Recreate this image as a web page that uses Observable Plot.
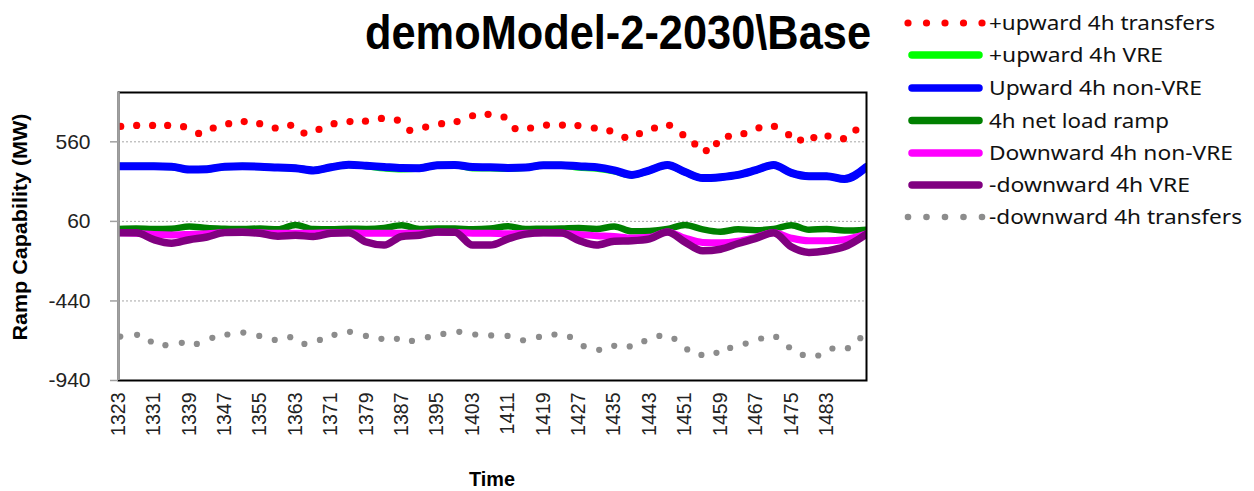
<!DOCTYPE html>
<html>
<head>
<meta charset="utf-8">
<script src="https://cdn.jsdelivr.net/npm/d3@7"></script>
<script src="https://cdn.jsdelivr.net/npm/@observablehq/plot@0.6"></script>
<style>
  html, body { margin: 0; padding: 0; background: #fff; }
  #wrap { position: relative; width: 1254px; height: 491px; overflow: hidden; }
  #chart { position: absolute; left: 0; top: 0; }
  #overlay { position: absolute; left: 0; top: 0; pointer-events: none; }
</style>
</head>
<body>
<div id="wrap">
  <div id="chart"></div>
  <svg id="overlay" width="1254" height="491"></svg>
</div>
<script>
// ---- Data ----
const time = [1323,1327,1331,1335,1339,1343,1347,1351,1355,1359,1363,1367,1371,1375,1379,1383,1387,1391,1395,1399,1403,1407,1411,1415,1419,1423,1427,1431,1435,1439,1443,1447,1451,1455,1459,1463,1467,1471,1475,1479,1483,1487,1492];

const upwardVRE = [406,406,406,404,386,388,404,406,404,398,394,380,400,416,408,396,390,394,413,415,396,395,392,398,413,413,400,394,376,352,381,414,370,332,338,352,382,414,365,344,344,326,402];
const upwardNonVRE = [406,406,406,404,386,388,404,406,404,398,394,380,400,416,410,402,395,394,413,415,402,400,396,398,413,413,406,400,381,352,381,414,370,332,338,352,382,414,365,344,344,326,402];
const netLoadRamp = [12,15,12,14,28,18,14,12,15,10,38,12,10,14,12,18,35,12,15,15,10,15,30,12,14,15,18,12,28,-2,0,12,38,10,-5,10,5,12,36,8,12,2,8];
const downwardNonVRE = [-12,-15,-22,-25,-22,-18,-10,-8,-12,-15,-15,-14,-12,-12,-15,-15,-15,-15,-8,-10,-14,-15,-18,-15,-12,-14,-22,-30,-35,-45,-40,-6,-45,-72,-75,-65,-40,-12,-45,-62,-62,-55,-18];
const downwardVRE = [-12,-12,-55,-77,-55,-38,-10,-8,-15,-33,-27,-35,-15,-12,-70,-89,-35,-27,-6,-8,-89,-89,-50,-20,-12,-12,-60,-89,-65,-62,-50,-6,-70,-125,-115,-79,-47,-12,-100,-135,-125,-100,-20];

const upTransfersTime = [1323.5,1327.1,1330.7,1334.1,1337.7,1341.1,1344.4,1347.9,1351.4,1354.9,1358.4,1361.9,1364.9,1368.3,1371.7,1375.3,1378.8,1382.4,1386.0,1388.8,1392.4,1396.0,1399.5,1403.0,1406.5,1410.1,1412.6,1416.1,1419.7,1423.3,1426.8,1430.5,1434.0,1437.4,1440.7,1444.1,1447.5,1450.5,1453.2,1455.8,1458.1,1460.8,1464.3,1467.7,1471.2,1474.4,1477.1,1480.1,1483.3,1486.8,1489.6];
const upTransfers = [657,663,663,663,655,613,647,674,687,674,647,664,615,638,674,687,690,707,697,632,653,674,687,724,733,716,643,647,665,665,662,647,629,588,611,647,664,605,547,505,549,595,611,648,657,605,571,587,596,580,634];

const downTransfersTime = [1323.4,1327.2,1330.3,1333.6,1337.3,1340.7,1344.2,1347.6,1351.2,1354.8,1358.3,1361.8,1365.0,1368.5,1371.8,1375.3,1378.9,1382.4,1385.9,1389.3,1392.9,1396.4,1400.0,1403.6,1407.2,1410.9,1414.4,1418.0,1421.5,1425.0,1428.1,1431.6,1435.0,1438.5,1441.8,1445.2,1448.6,1451.5,1454.7,1458.1,1461.2,1464.7,1468.2,1471.6,1474.5,1477.6,1481.1,1484.3,1487.8,1490.6];
const downTransfers = [-664,-653,-695,-718,-703,-710,-672,-651,-639,-660,-685,-668,-710,-685,-653,-634,-660,-678,-678,-691,-668,-647,-634,-651,-657,-660,-687,-666,-651,-666,-724,-747,-722,-726,-693,-660,-678,-745,-779,-766,-735,-708,-676,-666,-731,-779,-783,-739,-737,-674];

const yTicks = [560, 60, -440, -940];
const gridValues = [560, 60, -440];
const xTicks = [1323,1331,1339,1347,1355,1363,1371,1379,1387,1395,1403,1411,1419,1427,1435,1443,1451,1459,1467,1475,1483];

const seriesNames = ["+upward 4h transfers","+upward 4h VRE","Upward 4h non-VRE","4h net load ramp","Downward 4h non-VRE","-downward 4h VRE","-downward 4h transfers"];
const seriesColors = ["#ff0000","#00ff00","#0000ff","#008000","#ff00ff","#800080","#8c8c8c"];
const titleText = "demoModel-2-2030\\Base";
const yLabel = "Ramp Capability (MW)";
const xLabel = "Time";

// ---- Build tables ----
const rows = (vals) => time.map((t, i) => ({t, v: vals[i]}));
const upRows = upTransfersTime.map((t, i) => ({t, v: upTransfers[i]}));
const downRows = downTransfersTime.map((t, i) => ({t, v: downTransfers[i]}));

const lineOpts = (color, w) => ({x: "t", y: "v", stroke: color, strokeWidth: w, curve: "monotone-x", strokeLinejoin: "round", strokeLinecap: "round", clip: true});

const chart = Plot.plot({
  width: 880,
  height: 491,
  marginLeft: 118,
  marginRight: 14,
  marginTop: 92,
  marginBottom: 111,
  x: {domain: [1323, 1492]},
  y: {domain: [-940, 870]},
  style: {fontFamily: "'Liberation Sans', Arial, sans-serif", fontSize: "20px", color: "#222", background: "transparent", overflow: "visible"},
  marks: [
    Plot.ruleY(gridValues, {stroke: "#a6a6a6", strokeDasharray: "2,2", strokeWidth: 1}),
    Plot.dot(upRows, {x: "t", y: "v", r: 3.6, fill: seriesColors[0], stroke: "none", clip: true}),
    Plot.line(rows(upwardVRE), lineOpts(seriesColors[1], 7)),
    Plot.line(rows(upwardNonVRE), lineOpts(seriesColors[2], 8)),
    Plot.line(rows(netLoadRamp), lineOpts(seriesColors[3], 6.5)),
    Plot.line(rows(downwardNonVRE), lineOpts(seriesColors[4], 7)),
    Plot.line(rows(downwardVRE), lineOpts(seriesColors[5], 7.5)),
    Plot.dot(downRows, {x: "t", y: "v", r: 3.1, fill: seriesColors[6], stroke: "none", clip: true}),
    Plot.frame({stroke: "#000", strokeWidth: 2}),
    Plot.ruleX([1323], {stroke: "#a0a0a0", strokeWidth: 2.5}),
    Plot.axisY({ticks: yTicks, tickSize: 8, tickPadding: 20, tickFormat: d => String(d), fontSize: 21, stroke: "#a0a0a0", strokeWidth: 1.5, label: null}),
    Plot.axisX({ticks: xTicks, tickSize: 0, tickPadding: 12, tickRotate: -90, tickFormat: d => String(d), fontSize: 19.5, label: null})
  ]
});
document.getElementById("chart").appendChild(chart);

// ---- Title, axis titles, legend ----
const ov = d3.select("#overlay");
ov.append("text").attr("x", 365).attr("y", 49)
  .attr("font-family", "'Liberation Sans Narrow','Liberation Sans',Arial,sans-serif")
  .attr("font-weight", "bold").attr("font-size", 49).attr("fill", "#000")
  .attr("textLength", 506).attr("lengthAdjust", "spacingAndGlyphs")
  .text(titleText);

ov.append("text").attr("transform", "translate(27,227) rotate(-90)")
  .attr("text-anchor", "middle")
  .attr("font-family", "'Liberation Sans',Arial,sans-serif")
  .attr("font-weight", "bold").attr("font-size", 19.5).attr("fill", "#000")
  .attr("textLength", 227).attr("lengthAdjust", "spacingAndGlyphs")
  .text(yLabel);

ov.append("text").attr("x", 492).attr("y", 486)
  .attr("text-anchor", "middle")
  .attr("font-family", "'Liberation Sans Narrow','Liberation Sans',Arial,sans-serif")
  .attr("font-weight", "bold").attr("font-size", 21).attr("fill", "#000")
  .attr("textLength", 46).attr("lengthAdjust", "spacingAndGlyphs")
  .text(xLabel);

const legendY = [23, 55, 88, 120.5, 153, 185, 217];
const legendTextW = [226, 174, 213, 180, 244, 201, 253];
seriesNames.forEach((name, i) => {
  const y = legendY[i];
  const g = ov.append("g");
  if (i === 0 || i === 6) {
    [908, 926.5, 945, 963.5, 982].forEach(cx => {
      g.append("circle").attr("cx", cx).attr("cy", y).attr("r", i === 0 ? 3.6 : 3.3).attr("fill", seriesColors[i]);
    });
  } else {
    g.append("line").attr("x1", 912).attr("x2", 979).attr("y1", y).attr("y2", y)
      .attr("stroke", seriesColors[i]).attr("stroke-width", 7.5).attr("stroke-linecap", "round");
  }
  g.append("text").attr("x", 989).attr("y", y + 7)
    .attr("font-family", "'Noto Sans','Open Sans',sans-serif")
    .attr("font-size", 20).attr("fill", "#111")
    .attr("textLength", legendTextW[i]).attr("lengthAdjust", "spacingAndGlyphs")
    .text(name);
});
</script>
</body>
</html>
